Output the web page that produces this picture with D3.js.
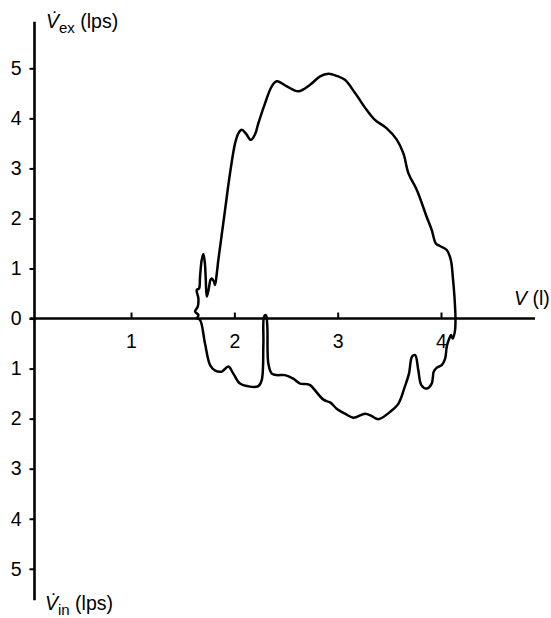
<!DOCTYPE html>
<html>
<head>
<meta charset="utf-8">
<script src="https://cdn.jsdelivr.net/npm/d3@7"></script>
<style>
  body { margin: 0; background: #fff; }
  svg text { font-family: "Liberation Sans", Arial, sans-serif; fill: #000; }
</style>
</head>
<body>
<div id="chart"></div>
<script>
// expiratory limb (volume in l, flow in lps, plotted upward)
var expVolume = [1.636, 1.652, 1.62, 1.646, 1.652, 1.636, 1.658, 1.668, 1.684, 1.70, 1.715, 1.723, 1.733,
    1.75, 1.77, 1.781, 1.80, 1.813, 1.83, 1.845, 1.871, 1.91, 1.958, 2.007, 2.039, 2.072, 2.114, 2.159,
    2.20, 2.232, 2.297, 2.362, 2.411, 2.508, 2.62, 2.733, 2.83, 2.91, 2.99, 3.07, 3.17, 3.28, 3.36,
    3.475, 3.57, 3.636, 3.685, 3.766, 3.86, 3.91, 3.95, 3.99, 4.056, 4.095, 4.114, 4.13, 4.14];
var expFlow = [0, 0.07, 0.14, 0.24, 0.40, 0.57, 0.60, 0.84, 1.17, 1.29, 1.10, 0.80, 0.44,
    0.57, 0.78, 0.80, 0.75, 0.67, 0.90, 1.17, 1.57, 2.17, 2.90, 3.50, 3.70, 3.77, 3.69, 3.57,
    3.68, 3.90, 4.30, 4.64, 4.74, 4.64, 4.54, 4.67, 4.84, 4.89, 4.85, 4.77, 4.50, 4.17, 3.97,
    3.80, 3.58, 3.30, 2.90, 2.57, 2.04, 1.77, 1.50, 1.45, 1.37, 1.17, 0.84, 0.44, 0];

// inspiratory limb (flow in lps, plotted downward), traced right to left
var inspVolume = [4.136, 4.114, 4.098, 4.08, 4.056, 4.04, 4.007, 3.96, 3.93, 3.91, 3.86, 3.81, 3.78,
    3.75, 3.72, 3.69, 3.65, 3.588, 3.51, 3.394, 3.33, 3.266, 3.152, 3.07, 2.99, 2.93, 2.862, 2.733,
    2.70, 2.636, 2.57, 2.49, 2.41, 2.362, 2.329, 2.319, 2.306, 2.288, 2.281, 2.265, 2.232, 2.152,
    2.055, 1.99, 1.942, 1.878, 1.815, 1.765, 1.716, 1.668, 1.636];
var inspFlow = [0.23, 0.40, 0.33, 0.40, 0.56, 0.80, 0.93, 0.98, 1.06, 1.30, 1.40, 1.33, 1.03,
    0.73, 0.76, 1.10, 1.36, 1.70, 1.86, 2.01, 1.95, 1.90, 1.98, 1.90, 1.80, 1.68, 1.62, 1.33,
    1.31, 1.30, 1.20, 1.13, 1.13, 1.10, 0.90, 0.16, -0.07, -0.04, 0.50, 1.23, 1.35, 1.36,
    1.30, 1.10, 0.96, 1.06, 1.04, 0.93, 0.50, 0.03, 0];

var xTicks = [1, 2, 3, 4];
var yTicks = [-5, -4, -3, -2, -1, 0, 1, 2, 3, 4, 5];
var xAxisExtent = [0.02, 4.91];
var yAxisExtent = [-5.63, 5.93];

var width = 551, height = 618;
var fontSize = '19.5px';

var svg = d3.select('#chart').append('svg')
    .attr('width', width)
    .attr('height', height);

var x = d3.scaleLinear().domain([0, 4]).range([27.7, 441]);
var y = d3.scaleLinear().domain([-5, 5]).range([568.8, 68.3]);
var yAxisX = 34.5;

// axis lines
svg.append('line')
    .attr('x1', x(xAxisExtent[0])).attr('x2', x(xAxisExtent[1]))
    .attr('y1', y(0)).attr('y2', y(0))
    .attr('stroke', '#000').attr('stroke-width', 2.6);

svg.append('line')
    .attr('x1', yAxisX).attr('x2', yAxisX)
    .attr('y1', y(yAxisExtent[1])).attr('y2', y(yAxisExtent[0]))
    .attr('stroke', '#000').attr('stroke-width', 2.6);

// y axis ticks, labels show absolute flow
var yAxis = d3.axisLeft(y)
    .tickValues(yTicks)
    .tickFormat(function (d) { return Math.abs(d); })
    .tickSize(5)
    .tickPadding(8);

svg.append('g')
    .attr('transform', 'translate(' + yAxisX + ',0)')
    .call(yAxis)
    .call(function (g) { g.select('.domain').remove(); })
    .call(function (g) {
        g.selectAll('line').attr('stroke', '#000').attr('stroke-width', 2);
        g.selectAll('text').style('font-size', fontSize).attr('font-family', null);
    });

// x axis ticks point upward, labels below
var xAxis = d3.axisBottom(x)
    .tickValues(xTicks)
    .tickFormat(d3.format('d'))
    .tickSize(-6)
    .tickPadding(15.5);

svg.append('g')
    .attr('transform', 'translate(0,' + y(0) + ')')
    .call(xAxis)
    .call(function (g) { g.select('.domain').remove(); })
    .call(function (g) {
        g.selectAll('line').attr('stroke', '#000').attr('stroke-width', 2);
        g.selectAll('text').style('font-size', fontSize).attr('font-family', null);
    });

// loop
var pts = expVolume.map(function (v, i) { return [v, expFlow[i]]; })
    .concat(inspVolume.map(function (v, i) { return [v, -inspFlow[i]]; }));

var line = d3.line()
    .x(function (d) { return x(d[0]); })
    .y(function (d) { return y(d[1]); })
    .curve(d3.curveCatmullRom.alpha(0.5));

svg.append('path')
    .datum(pts)
    .attr('d', line)
    .attr('fill', 'none')
    .attr('stroke', '#000')
    .attr('stroke-width', 2.5)
    .attr('stroke-linejoin', 'round');

// axis titles
function flowLabel (sub, px, py) {
    var t = svg.append('text')
        .attr('x', px).attr('y', py)
        .style('font-size', fontSize);
    t.append('tspan').style('font-style', 'italic').text('V\u0307');
    t.append('tspan').attr('dy', 5).style('font-size', '15px').text(sub);
    t.append('tspan').attr('dy', -5).text(' (lps)');
}
flowLabel('ex', 46, 28);
flowLabel('in', 45, 610);

var vLabel = svg.append('text')
    .attr('x', 514).attr('y', 305)
    .style('font-size', fontSize);
vLabel.append('tspan').style('font-style', 'italic').text('V');
vLabel.append('tspan').text(' (l)');
</script>
</body>
</html>
